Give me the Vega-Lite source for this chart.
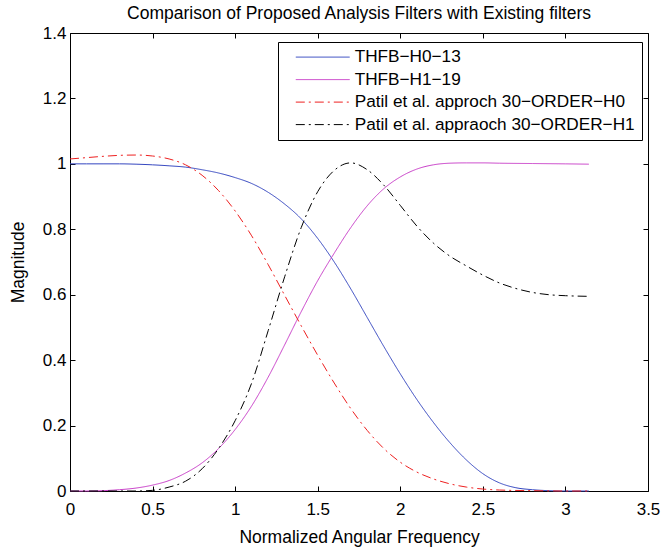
{
  "$schema": "https://vega.github.io/schema/vega-lite/v6.json",
  "width": 578,
  "height": 458,
  "autosize": {"type": "none"},
  "padding": {"left": 70, "top": 33, "right": 16, "bottom": 60},
  "background": "white",
  "title": {"text": "Comparison of Proposed Analysis Filters with Existing filters", "fontSize": 17.5, "fontWeight": "normal", "font": "Liberation Sans", "color": "black", "offset": 2},
  "config": {
    "view": {"stroke": null},
    "font": "Liberation Sans",
    "axis": {"domainColor": "black", "tickColor": "black", "tickSize": -5, "labelColor": "black", "labelFontSize": 17, "titleFontSize": 17.5, "titleFontWeight": "normal", "titleColor": "black", "grid": false, "labelFont": "Liberation Sans", "titleFont": "Liberation Sans"}
  },
  "data": {"values": [
    {"series": "THFB−H0−13", "w": 0, "mag": 1.0},
    {"series": "THFB−H0−13", "w": 0.1, "mag": 1.0},
    {"series": "THFB−H0−13", "w": 0.2, "mag": 1.0},
    {"series": "THFB−H0−13", "w": 0.3, "mag": 1.0},
    {"series": "THFB−H0−13", "w": 0.4, "mag": 0.999},
    {"series": "THFB−H0−13", "w": 0.5, "mag": 0.997},
    {"series": "THFB−H0−13", "w": 0.6, "mag": 0.994},
    {"series": "THFB−H0−13", "w": 0.7, "mag": 0.99},
    {"series": "THFB−H0−13", "w": 0.8, "mag": 0.982},
    {"series": "THFB−H0−13", "w": 0.9, "mag": 0.972},
    {"series": "THFB−H0−13", "w": 1.0, "mag": 0.958},
    {"series": "THFB−H0−13", "w": 1.1, "mag": 0.94},
    {"series": "THFB−H0−13", "w": 1.2, "mag": 0.913},
    {"series": "THFB−H0−13", "w": 1.3, "mag": 0.877},
    {"series": "THFB−H0−13", "w": 1.4, "mag": 0.832},
    {"series": "THFB−H0−13", "w": 1.5, "mag": 0.772},
    {"series": "THFB−H0−13", "w": 1.6, "mag": 0.7},
    {"series": "THFB−H0−13", "w": 1.7, "mag": 0.618},
    {"series": "THFB−H0−13", "w": 1.8, "mag": 0.53},
    {"series": "THFB−H0−13", "w": 1.9, "mag": 0.442},
    {"series": "THFB−H0−13", "w": 2.0, "mag": 0.358},
    {"series": "THFB−H0−13", "w": 2.1, "mag": 0.28},
    {"series": "THFB−H0−13", "w": 2.2, "mag": 0.21},
    {"series": "THFB−H0−13", "w": 2.3, "mag": 0.148},
    {"series": "THFB−H0−13", "w": 2.4, "mag": 0.095},
    {"series": "THFB−H0−13", "w": 2.5, "mag": 0.053},
    {"series": "THFB−H0−13", "w": 2.6, "mag": 0.025},
    {"series": "THFB−H0−13", "w": 2.7, "mag": 0.01},
    {"series": "THFB−H0−13", "w": 2.8, "mag": 0.004},
    {"series": "THFB−H0−13", "w": 2.9, "mag": 0.001},
    {"series": "THFB−H0−13", "w": 3.0, "mag": 0.0},
    {"series": "THFB−H0−13", "w": 3.1416, "mag": 0.0},
    {"series": "THFB−H1−19", "w": 0, "mag": 0.0},
    {"series": "THFB−H1−19", "w": 0.1, "mag": 0.0},
    {"series": "THFB−H1−19", "w": 0.2, "mag": 0.001},
    {"series": "THFB−H1−19", "w": 0.3, "mag": 0.004},
    {"series": "THFB−H1−19", "w": 0.4, "mag": 0.009},
    {"series": "THFB−H1−19", "w": 0.5, "mag": 0.018},
    {"series": "THFB−H1−19", "w": 0.6, "mag": 0.032},
    {"series": "THFB−H1−19", "w": 0.7, "mag": 0.055},
    {"series": "THFB−H1−19", "w": 0.8, "mag": 0.086},
    {"series": "THFB−H1−19", "w": 0.9, "mag": 0.13},
    {"series": "THFB−H1−19", "w": 1.0, "mag": 0.188},
    {"series": "THFB−H1−19", "w": 1.1, "mag": 0.26},
    {"series": "THFB−H1−19", "w": 1.2, "mag": 0.348},
    {"series": "THFB−H1−19", "w": 1.3, "mag": 0.447},
    {"series": "THFB−H1−19", "w": 1.4, "mag": 0.548},
    {"series": "THFB−H1−19", "w": 1.5, "mag": 0.643},
    {"series": "THFB−H1−19", "w": 1.6, "mag": 0.727},
    {"series": "THFB−H1−19", "w": 1.7, "mag": 0.805},
    {"series": "THFB−H1−19", "w": 1.8, "mag": 0.872},
    {"series": "THFB−H1−19", "w": 1.9, "mag": 0.924},
    {"series": "THFB−H1−19", "w": 2.0, "mag": 0.96},
    {"series": "THFB−H1−19", "w": 2.1, "mag": 0.984},
    {"series": "THFB−H1−19", "w": 2.2, "mag": 0.997},
    {"series": "THFB−H1−19", "w": 2.3, "mag": 1.002},
    {"series": "THFB−H1−19", "w": 2.4, "mag": 1.003},
    {"series": "THFB−H1−19", "w": 2.5, "mag": 1.003},
    {"series": "THFB−H1−19", "w": 2.6, "mag": 1.002},
    {"series": "THFB−H1−19", "w": 2.8, "mag": 1.001},
    {"series": "THFB−H1−19", "w": 3.0, "mag": 1.0},
    {"series": "THFB−H1−19", "w": 3.1416, "mag": 0.999},
    {"series": "Patil et al. approch 30−ORDER−H0", "w": 0, "mag": 1.015},
    {"series": "Patil et al. approch 30−ORDER−H0", "w": 0.1, "mag": 1.019},
    {"series": "Patil et al. approch 30−ORDER−H0", "w": 0.2, "mag": 1.023},
    {"series": "Patil et al. approch 30−ORDER−H0", "w": 0.3, "mag": 1.026},
    {"series": "Patil et al. approch 30−ORDER−H0", "w": 0.4, "mag": 1.027},
    {"series": "Patil et al. approch 30−ORDER−H0", "w": 0.5, "mag": 1.024},
    {"series": "Patil et al. approch 30−ORDER−H0", "w": 0.6, "mag": 1.015},
    {"series": "Patil et al. approch 30−ORDER−H0", "w": 0.7, "mag": 0.997},
    {"series": "Patil et al. approch 30−ORDER−H0", "w": 0.8, "mag": 0.965},
    {"series": "Patil et al. approch 30−ORDER−H0", "w": 0.9, "mag": 0.918},
    {"series": "Patil et al. approch 30−ORDER−H0", "w": 1.0, "mag": 0.856},
    {"series": "Patil et al. approch 30−ORDER−H0", "w": 1.1, "mag": 0.78},
    {"series": "Patil et al. approch 30−ORDER−H0", "w": 1.2, "mag": 0.692},
    {"series": "Patil et al. approch 30−ORDER−H0", "w": 1.3, "mag": 0.598},
    {"series": "Patil et al. approch 30−ORDER−H0", "w": 1.4, "mag": 0.505},
    {"series": "Patil et al. approch 30−ORDER−H0", "w": 1.5, "mag": 0.415},
    {"series": "Patil et al. approch 30−ORDER−H0", "w": 1.6, "mag": 0.33},
    {"series": "Patil et al. approch 30−ORDER−H0", "w": 1.7, "mag": 0.252},
    {"series": "Patil et al. approch 30−ORDER−H0", "w": 1.8, "mag": 0.185},
    {"series": "Patil et al. approch 30−ORDER−H0", "w": 1.9, "mag": 0.13},
    {"series": "Patil et al. approch 30−ORDER−H0", "w": 2.0, "mag": 0.088},
    {"series": "Patil et al. approch 30−ORDER−H0", "w": 2.1, "mag": 0.058},
    {"series": "Patil et al. approch 30−ORDER−H0", "w": 2.2, "mag": 0.037},
    {"series": "Patil et al. approch 30−ORDER−H0", "w": 2.3, "mag": 0.022},
    {"series": "Patil et al. approch 30−ORDER−H0", "w": 2.4, "mag": 0.012},
    {"series": "Patil et al. approch 30−ORDER−H0", "w": 2.5, "mag": 0.006},
    {"series": "Patil et al. approch 30−ORDER−H0", "w": 2.6, "mag": 0.003},
    {"series": "Patil et al. approch 30−ORDER−H0", "w": 2.8, "mag": 0.001},
    {"series": "Patil et al. approch 30−ORDER−H0", "w": 3.0, "mag": 0.0},
    {"series": "Patil et al. approch 30−ORDER−H0", "w": 3.1416, "mag": 0.0},
    {"series": "Patil et al. appraoch 30−ORDER−H1", "w": 0, "mag": 0.0},
    {"series": "Patil et al. appraoch 30−ORDER−H1", "w": 0.2, "mag": 0.0},
    {"series": "Patil et al. appraoch 30−ORDER−H1", "w": 0.4, "mag": 0.0},
    {"series": "Patil et al. appraoch 30−ORDER−H1", "w": 0.5, "mag": 0.002},
    {"series": "Patil et al. appraoch 30−ORDER−H1", "w": 0.6, "mag": 0.012},
    {"series": "Patil et al. appraoch 30−ORDER−H1", "w": 0.7, "mag": 0.03},
    {"series": "Patil et al. appraoch 30−ORDER−H1", "w": 0.8, "mag": 0.068},
    {"series": "Patil et al. appraoch 30−ORDER−H1", "w": 0.9, "mag": 0.13},
    {"series": "Patil et al. appraoch 30−ORDER−H1", "w": 1.0, "mag": 0.215},
    {"series": "Patil et al. appraoch 30−ORDER−H1", "w": 1.1, "mag": 0.33},
    {"series": "Patil et al. appraoch 30−ORDER−H1", "w": 1.2, "mag": 0.49},
    {"series": "Patil et al. appraoch 30−ORDER−H1", "w": 1.3, "mag": 0.655},
    {"series": "Patil et al. appraoch 30−ORDER−H1", "w": 1.4, "mag": 0.805},
    {"series": "Patil et al. appraoch 30−ORDER−H1", "w": 1.5, "mag": 0.915},
    {"series": "Patil et al. appraoch 30−ORDER−H1", "w": 1.6, "mag": 0.98},
    {"series": "Patil et al. appraoch 30−ORDER−H1", "w": 1.7, "mag": 1.003},
    {"series": "Patil et al. appraoch 30−ORDER−H1", "w": 1.8, "mag": 0.982},
    {"series": "Patil et al. appraoch 30−ORDER−H1", "w": 1.9, "mag": 0.935},
    {"series": "Patil et al. appraoch 30−ORDER−H1", "w": 2.0, "mag": 0.873},
    {"series": "Patil et al. appraoch 30−ORDER−H1", "w": 2.1, "mag": 0.81},
    {"series": "Patil et al. appraoch 30−ORDER−H1", "w": 2.2, "mag": 0.758},
    {"series": "Patil et al. appraoch 30−ORDER−H1", "w": 2.3, "mag": 0.718},
    {"series": "Patil et al. appraoch 30−ORDER−H1", "w": 2.4, "mag": 0.688},
    {"series": "Patil et al. appraoch 30−ORDER−H1", "w": 2.5, "mag": 0.66},
    {"series": "Patil et al. appraoch 30−ORDER−H1", "w": 2.6, "mag": 0.636},
    {"series": "Patil et al. appraoch 30−ORDER−H1", "w": 2.7, "mag": 0.619},
    {"series": "Patil et al. appraoch 30−ORDER−H1", "w": 2.8, "mag": 0.607},
    {"series": "Patil et al. appraoch 30−ORDER−H1", "w": 2.9, "mag": 0.6},
    {"series": "Patil et al. appraoch 30−ORDER−H1", "w": 3.0, "mag": 0.597},
    {"series": "Patil et al. appraoch 30−ORDER−H1", "w": 3.1416, "mag": 0.595}
  ]},
  "layer": [
    {
      "mark": {"type": "line", "strokeWidth": 1, "interpolate": "monotone"},
      "encoding": {
        "x": {"field": "w", "type": "quantitative", "scale": {"domain": [0, 3.5], "nice": false, "zero": false},
              "axis": {"orient": "bottom", "values": [0, 0.5, 1, 1.5, 2, 2.5, 3, 3.5], "labelExpr": "datum.value", "title": "Normalized Angular Frequency", "labelPadding": 15, "titlePadding": 11, "labelFlush": false}},
        "y": {"field": "mag", "type": "quantitative", "scale": {"domain": [0, 1.4], "nice": false, "zero": false},
              "axis": {"orient": "left", "values": [0, 0.2, 0.4, 0.6, 0.8, 1, 1.2, 1.4], "labelExpr": "datum.value", "title": "Magnitude", "labelPadding": 9, "titlePadding": 15, "labelFlush": false}},
        "color": {"field": "series", "type": "nominal", "title": null,
                  "scale": {"domain": ["THFB−H0−13", "THFB−H1−19", "Patil et al. approch 30−ORDER−H0", "Patil et al. appraoch 30−ORDER−H1"], "range": ["#3345c0", "#c83cc8", "#ee2020", "#000000"]},
                  "legend": {"orient": "none", "legendX": 208, "legendY": 9, "strokeColor": "black", "fillColor": "white", "padding": 6.5, "labelFontSize": 17.2, "labelColor": "black", "labelFont": "Liberation Sans", "symbolType": "M1.0,0H21.0", "symbolSize": 29, "symbolStrokeWidth": 1, "labelOffset": 53, "rowPadding": 4.5, "labelLimit": 400}},
        "strokeDash": {"field": "series", "type": "nominal", "title": null,
                  "scale": {"domain": ["THFB−H0−13", "THFB−H1−19", "Patil et al. approch 30−ORDER−H0", "Patil et al. appraoch 30−ORDER−H1"], "range": [[1, 0], [1, 0], [9, 4, 2, 4], [9, 4, 2, 4]]}}
      }
    },
    {
      "mark": {"type": "point", "opacity": 0},
      "encoding": {
        "x": {"field": "w", "type": "quantitative", "axis": {"orient": "top", "values": [0, 0.5, 1, 1.5, 2, 2.5, 3, 3.5], "labels": false, "title": null}},
        "y": {"field": "mag", "type": "quantitative", "axis": {"orient": "right", "values": [0, 0.2, 0.4, 0.6, 0.8, 1, 1.2, 1.4], "labels": false, "title": null}}
      }
    }
  ],
  "resolve": {"axis": {"x": "independent", "y": "independent"}}
}
